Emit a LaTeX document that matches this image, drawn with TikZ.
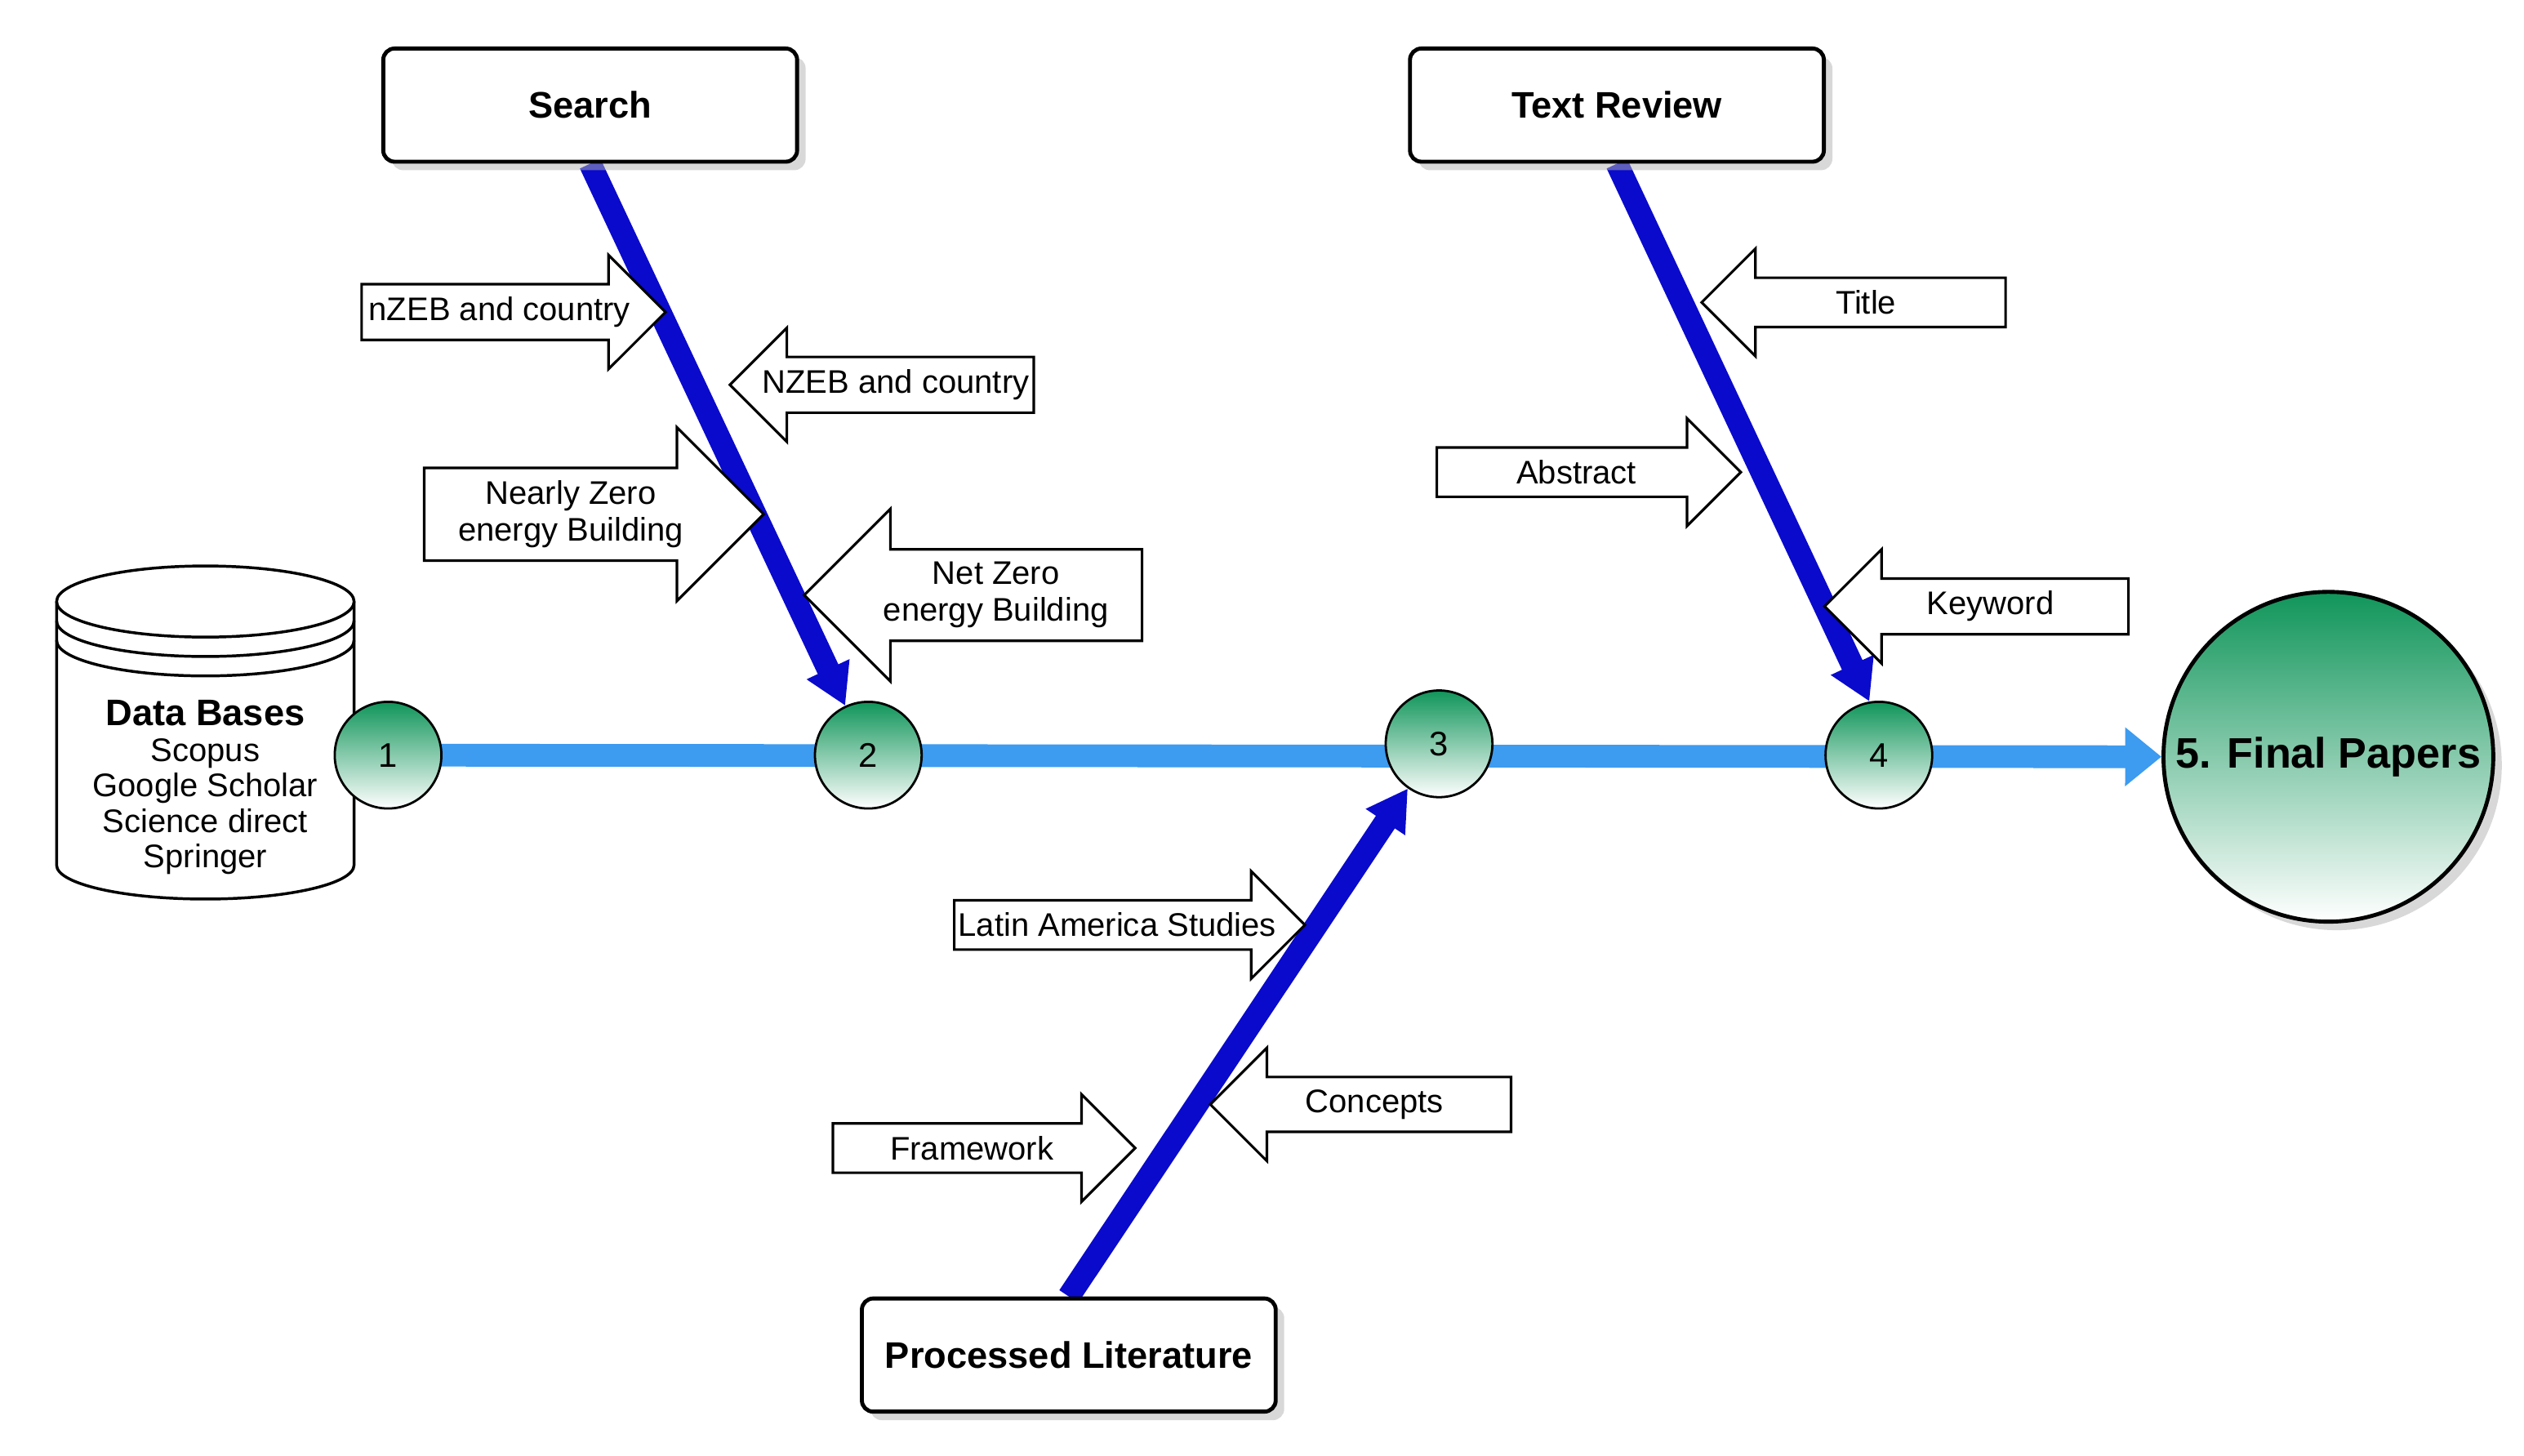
\documentclass[tikz,border=0pt]{standalone}
\usepackage{fontspec}
\setmainfont{Liberation Sans}
\usetikzlibrary{arrows.meta,shapes.arrows,shadows,backgrounds}
\definecolor{spine}{HTML}{3D9BF0}
\definecolor{bonec}{HTML}{0A0ACC}
\definecolor{stepg}{HTML}{10955A}
\tikzset{
  stage/.style={draw, line width=1.4pt, rounded corners=4pt, fill=white,
    minimum width=5.12cm, minimum height=1.4cm,
    font=\fontsize{13}{15}\selectfont\bfseries,
    drop shadow={shadow xshift=3pt, shadow yshift=-3pt, fill=black!30}},
  stepnode/.style={circle, draw, line width=0.8pt, minimum size=1.32cm,
    top color=stepg, bottom color=white, font=\fontsize{12}{14}\selectfont},
  tag/.style={single arrow, draw, line width=0.9pt, fill=white,
    font=\fontsize{11.5}{13}\selectfont, align=center, inner xsep=1pt,
    inner ysep=4pt, single arrow head extend=0.36cm},
  tagL/.style={tag, shape border rotate=180},
  bone/.style={draw=bonec, line width=8pt, -{Triangle[length=0.5cm, width=0.55cm]}},
}
\begin{document}
\begin{tikzpicture}[x=0.02cm, y=-0.02cm]
\useasboundingbox (0,0) rectangle (1561,900);

% data bases
\draw[fill=white, line width=1pt] (35,372) -- (35,535)
  arc[start angle=180, end angle=360, x radius=1.84cm, y radius=0.42cm] -- (219,372);
\draw[line width=1pt] (35,384) arc[start angle=180, end angle=360, x radius=1.84cm, y radius=0.44cm];
\draw[line width=1pt] (35,396) arc[start angle=180, end angle=360, x radius=1.84cm, y radius=0.44cm];
\draw[fill=white, line width=1pt] (127,372) ellipse[x radius=1.84cm, y radius=0.44cm];
\node[align=center, font=\fontsize{11.5}{12.5}\selectfont] (db) at (127,487)
  {{\fontsize{13}{14}\selectfont\bfseries Data Bases}\\Scopus\\Google Scholar\\Science direct\\Springer};

% heads
\node[stage] (search) at (365,65) {Search};
\node[stage] (review) at (1000,65) {Text Review};
\node[stage] (proc) at (661,838) {Processed Literature};

% steps
\node[stepnode] (c1) at (240,467) {1};
\node[stepnode] (c2) at (537,467) {2};
\node[stepnode] (c3) at (890,460) {3};
\node[stepnode] (c4) at (1162,467) {4};
\node[stepnode, minimum size=4.08cm, line width=1.4pt, font=\fontsize{15}{17}\selectfont\bfseries,
  drop shadow={shadow xshift=3pt, shadow yshift=-3pt, fill=black!30}] (final) at (1440,468) {5. Final Papers};

\begin{pgfonlayer}{background}
\draw[spine, line width=8pt, -{Triangle[length=0.45cm, width=0.7cm]}] (c1.center) -- (final.west);
\draw[bone] (search.south) -- (c2.115);
\draw[bone] (review.south) -- (c4.100);
\draw[bone] (proc.north) -- (c3.235);
\end{pgfonlayer}

% tags
\node[tag, minimum height=3.76cm] (t1) at (309,193) {nZEB and country};
\node[tagL, minimum height=3.76cm] (t2) at (554,238) {NZEB and country};
\node[tag, minimum height=4.2cm, single arrow head extend=0.5cm] (t3) at (353,318) {Nearly Zero\\energy Building};
\node[tagL, minimum height=4.18cm, single arrow head extend=0.5cm] (t4) at (616,368) {Net Zero\\energy Building};
\node[tagL, minimum height=3.76cm] (t5) at (1154,187) {Title};
\node[tag, minimum height=3.76cm] (t6) at (975,292) {Abstract};
\node[tagL, minimum height=3.76cm] (t7) at (1231,375) {Keyword};
\node[tag, minimum height=4.16cm] (t8) at (691,572) {Latin America Studies};
\node[tag, minimum height=3.74cm] (t9) at (601,710) {Framework};
\node[tagL, minimum height=3.72cm] (t10) at (850,683) {Concepts};
\end{tikzpicture}
\end{document}
